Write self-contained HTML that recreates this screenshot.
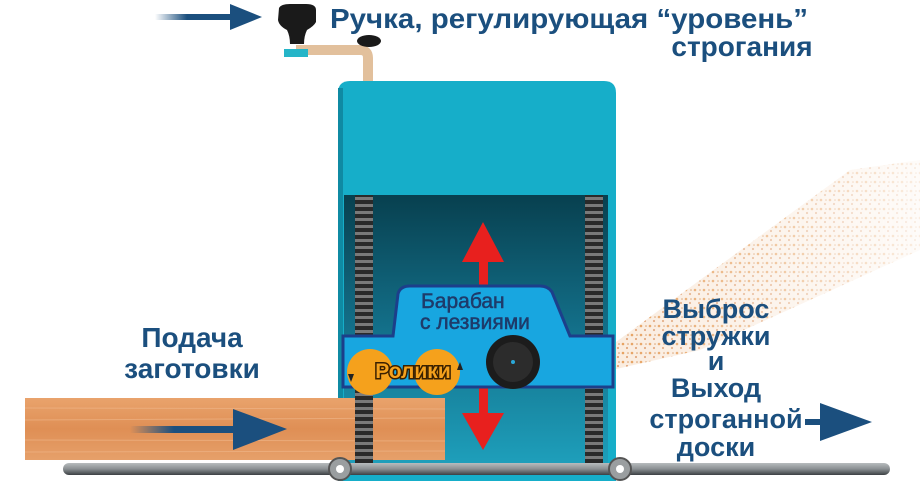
<!DOCTYPE html>
<html><head><meta charset="utf-8"><style>
html,body{margin:0;padding:0;background:#fff;}
svg{display:block;}
text{font-family:"Liberation Sans",sans-serif;font-weight:bold;fill:#1b4f7e;}
</style></head><body>
<svg width="920" height="490" viewBox="0 0 920 490" xmlns="http://www.w3.org/2000/svg">
<defs>
<linearGradient id="inner" x1="0" y1="0" x2="0" y2="1">
<stop offset="0" stop-color="#08404f"/><stop offset="0.5" stop-color="#13708a"/><stop offset="1" stop-color="#1e9fbb"/></linearGradient>
<linearGradient id="wood" x1="0" y1="0" x2="0" y2="1">
<stop offset="0" stop-color="#e9a36c"/><stop offset="0.5" stop-color="#df8f55"/><stop offset="1" stop-color="#e6a06a"/></linearGradient>
<linearGradient id="rail" x1="0" y1="0" x2="0" y2="1">
<stop offset="0" stop-color="#b8bcbe"/><stop offset="0.5" stop-color="#8a8f92"/><stop offset="1" stop-color="#3c4043"/></linearGradient>
<pattern id="screw" width="18" height="7" patternUnits="userSpaceOnUse">
<rect width="18" height="7" fill="#2a2a2a"/><rect y="1" width="18" height="3" fill="#7a7a7a"/></pattern>
<pattern id="dots" width="9" height="9" patternUnits="userSpaceOnUse">
<circle cx="2" cy="2" r="1.3" fill="#e08a3a"/><circle cx="6" cy="6" r="1.1" fill="#d89060"/><circle cx="7" cy="2" r="0.8" fill="#c87a3a"/></pattern>
<linearGradient id="fade" x1="0" y1="0" x2="1" y2="0">
<stop offset="0" stop-color="#fff" stop-opacity="1"/><stop offset="1" stop-color="#fff" stop-opacity="0.2"/></linearGradient>
<mask id="fm"><polygon points="612,345 700,280 850,170 920,160 920,250 700,350 612,370" fill="url(#fade)"/></mask>
<linearGradient id="arrowL" x1="0" y1="0" x2="1" y2="0">
<stop offset="0" stop-color="#1b4f7e" stop-opacity="0"/><stop offset="0.4" stop-color="#1b4f7e"/></linearGradient>
</defs>

<g mask="url(#fm)"><rect x="610" y="150" width="310" height="230" fill="url(#dots)"/><rect x="610" y="150" width="310" height="230" fill="#f2c9a4" opacity="0.35"/></g>

<rect x="155" y="14" width="80" height="6" fill="url(#arrowL)"/>
<polygon points="230,4 262,17 230,30" fill="#1b4f7e"/>

<path d="M296 50 L360 50 Q368 50 368 58 L368 82" stroke="#e2c09c" stroke-width="10" fill="none"/>
<rect x="284" y="49" width="24" height="8" fill="#25b5c8"/>
<path d="M279 8 Q281 4 290 4 L306 4 Q316 4 316 10 L316 22 Q314 26 307 30 Q304 36 304 44 L290 44 Q290 36 287 30 Q279 26 278 20 Z" fill="#1a1a1a"/>
<ellipse cx="369" cy="41" rx="12" ry="6" fill="#1a1a1a"/>

<path d="M338 93 Q338 81 350 81 L604 81 Q616 81 616 93 L616 481 L338 481 Z" fill="#16aec9"/>
<rect x="338" y="88" width="5" height="393" fill="#0f8aa3"/>
<rect x="344" y="195" width="264" height="270" fill="url(#inner)"/>

<rect x="479" y="250" width="9" height="60" fill="#e8201e"/>
<polygon points="483,222 462,262 504,262" fill="#e8201e"/>
<rect x="479" y="385" width="9" height="45" fill="#e8201e"/>
<polygon points="483,450 462,413 504,413" fill="#e8201e"/>

<rect x="25" y="398" width="420" height="62" fill="url(#wood)"/>
<g stroke="#f0b88c" stroke-width="1" opacity="0.6">
<line x1="25" y1="408" x2="445" y2="409"/><line x1="25" y1="420" x2="445" y2="418"/><line x1="25" y1="440" x2="445" y2="441"/><line x1="25" y1="452" x2="445" y2="451"/></g>
<rect x="130" y="426" width="110" height="7" fill="url(#arrowL)"/>
<polygon points="233,409 287,429 233,450" fill="#1b4f7e"/>

<rect x="355" y="195" width="18" height="275" fill="url(#screw)"/>
<rect x="585" y="195" width="18" height="275" fill="url(#screw)"/>

<path d="M343 336 L393 336 L398 294 Q400 286 410 286 L540 286 Q548 286 552 292 L570 336 L613 336 L613 387 L343 387 Z" fill="#18a6e0" stroke="#1c3f8a" stroke-width="3"/>
<text x="421" y="308" font-size="21" style="font-weight:normal;fill:#1e3b6a;stroke:#1e3b6a;stroke-width:0.5">Барабан</text>
<text x="420" y="329" font-size="21" style="font-weight:normal;fill:#1e3b6a;stroke:#1e3b6a;stroke-width:0.5">с лезвиями</text>

<circle cx="370" cy="372" r="23" fill="#f5a11c"/>
<circle cx="437" cy="372" r="23" fill="#f5a11c"/>
<text x="413" y="378" font-size="21" text-anchor="middle" style="fill:#f5a11c;stroke:#3a2000;stroke-width:3;paint-order:stroke">Ролики</text>
<polygon points="348,374 354,374 351,382" fill="#222"/>
<polygon points="457,370 463,370 460,362" fill="#222"/>

<circle cx="513" cy="362" r="27" fill="#1c1c1c"/>
<circle cx="513" cy="362" r="20" fill="#2c2c2c"/>
<circle cx="513" cy="362" r="2" fill="#2aa8d8"/>

<rect x="63" y="463" width="827" height="12" rx="6" fill="url(#rail)"/>
<circle cx="340" cy="469" r="11" fill="#9a9ea0" stroke="#555" stroke-width="2"/><circle cx="340" cy="469" r="4" fill="#fff"/>
<circle cx="620" cy="469" r="11" fill="#9a9ea0" stroke="#555" stroke-width="2"/><circle cx="620" cy="469" r="4" fill="#fff"/>

<rect x="805" y="419" width="20" height="6" fill="#1b4f7e"/>
<polygon points="820,403 872,422 820,441" fill="#1b4f7e"/>

<text x="330" y="28" font-size="28" textLength="478" lengthAdjust="spacingAndGlyphs">Ручка, регулирующая “уровень”</text>
<text x="742" y="56" font-size="28" text-anchor="middle">строгания</text>
<text x="192" y="347" font-size="28" text-anchor="middle">Подача</text>
<text x="192" y="378" font-size="28" text-anchor="middle">заготовки</text>
<text x="716" y="318" font-size="27" text-anchor="middle">Выброс</text>
<text x="716" y="345" font-size="27" text-anchor="middle">стружки</text>
<text x="716" y="370" font-size="27" text-anchor="middle">и</text>
<text x="716" y="397" font-size="27" text-anchor="middle">Выход</text>
<text x="726" y="428" font-size="27" text-anchor="middle">строганной</text>
<text x="716" y="456" font-size="27" text-anchor="middle">доски</text>
</svg>
</body></html>
